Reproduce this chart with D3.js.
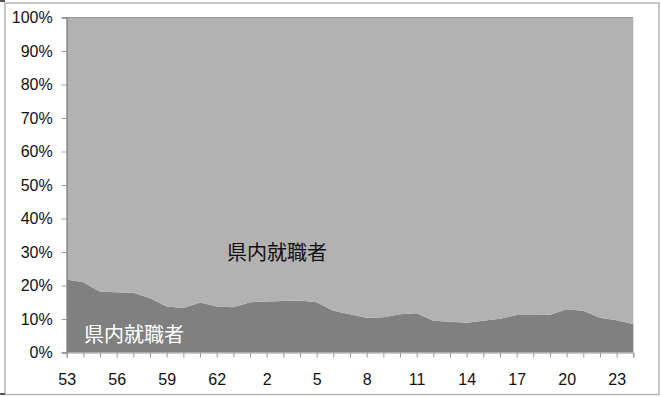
<!DOCTYPE html>
<html><head><meta charset="utf-8">
<script src="https://cdn.jsdelivr.net/npm/d3@7"></script>
<style>body{margin:0;background:#fff}svg{display:block}</style>
</head><body>
<svg id="c" width="661" height="397"></svg>
<script>
const categories = ["53","54","55","56","57","58","59","60","61","62","63","1","2","3","4","5","6","7","8","9","10","11","12","13","14","15","16","17","18","19","20","21","22","23","24"];
const inPref = [21.8,21.0,18.1,18.0,17.8,16.2,13.7,13.3,14.9,13.7,13.5,15.0,15.2,15.4,15.5,15.0,12.5,11.4,10.4,10.5,11.4,11.7,9.5,9.2,8.9,9.5,10.1,11.2,11.2,11.3,12.9,12.5,10.4,9.6,8.5];
const outPref = [78.2,79.0,81.9,82.0,82.2,83.8,86.3,86.7,85.1,86.3,86.5,85.0,84.8,84.6,84.5,85.0,87.5,88.6,89.6,89.5,88.6,88.3,90.5,90.8,91.1,90.5,89.9,88.8,88.8,88.7,87.1,87.5,89.6,90.4,91.5];
const seriesNames = ["県内就職者","県内就職者"];
const yTicks = [0,0.1,0.2,0.3,0.4,0.5,0.6,0.7,0.8,0.9,1.0];

const svg = d3.select("#c");
const L = 66.7, R = 633.3, T = 17.5, B = 352.5;

// frame
svg.append("rect").attr("x",5).attr("y",3).attr("width",654).attr("height",391.5)
  .attr("fill","none").attr("stroke","#b4b4b4").attr("stroke-width",1.5);
svg.append("line").attr("x1",0).attr("x2",5).attr("y1",1).attr("y2",1).attr("stroke","#555").attr("stroke-width",2);
svg.append("line").attr("x1",0).attr("x2",5).attr("y1",394).attr("y2",394).attr("stroke","#555").attr("stroke-width",2);

const x = d3.scalePoint().domain(categories).range([L, R]);
const y = d3.scaleLinear().domain([0,1]).range([B, T]);

const rows = categories.map((c,i)=>({cat:c, a:inPref[i], b:outPref[i]}));
const stack = d3.stack().keys(["a","b"]).offset(d3.stackOffsetExpand);
const layers = stack(rows);
const colors = ["#808080","#b2b2b2"];
const area = d3.area().x(d=>x(d.data.cat)).y0(d=>y(d[0])).y1(d=>y(d[1]));
svg.selectAll("path.layer").data(layers).join("path").attr("class","layer")
  .attr("d",area).attr("fill",(d,i)=>colors[i]);
// top edge
svg.append("line").attr("x1",L).attr("x2",R).attr("y1",T).attr("y2",T).attr("stroke","#9a9a9a").attr("stroke-width",1);

// axes
const fontFam = "'Liberation Sans', Arial, sans-serif";
const ya = svg.append("g").attr("transform",`translate(${L},0)`)
  .call(d3.axisLeft(y).tickValues(yTicks).tickFormat(d3.format(".0%")).tickSize(5).tickPadding(9));
ya.select(".domain").attr("stroke","#868686").attr("stroke-width",1.5);
ya.selectAll(".tick line").attr("stroke","#999");
ya.selectAll("text").attr("font-family",fontFam).attr("font-size",16).attr("fill","#111");

const xa = svg.append("g").attr("transform",`translate(0,${B})`)
  .call(d3.axisBottom(x).tickSize(5).tickPadding(16).tickFormat((d,i)=> i%3===0 ? d : ""));
xa.select(".domain").attr("stroke","#999");
xa.selectAll(".tick line").attr("stroke","#999");
xa.selectAll("text").attr("font-family",fontFam).attr("font-size",16).attr("fill","#111");

// series labels
const jp = "'Noto Sans CJK JP', sans-serif";
svg.append("text").attr("x",227).attr("y",260).text(seriesNames[1])
  .attr("font-family",jp).attr("font-size",20).attr("fill","#111");
svg.append("text").attr("x",84).attr("y",342).text(seriesNames[0])
  .attr("font-family",jp).attr("font-size",20).attr("fill","#fff");
</script>
</body></html>
